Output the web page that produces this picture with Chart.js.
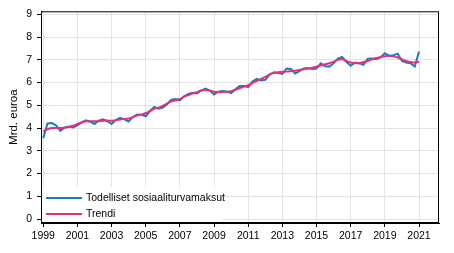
<!DOCTYPE html>
<html>
<head>
<meta charset="utf-8">
<script src="https://cdn.jsdelivr.net/npm/chart.js@4/dist/chart.umd.min.js"></script>
<style>
  body { margin: 0; background: #fff; }
  #wrap { position: relative; width: 454px; height: 253px; }
  #legend {
    position: absolute; left: 42px; top: 187px; width: 180px; height: 35px;
    background: #fff; font: 10.5px "Liberation Sans", Arial, sans-serif; color: #000;
  }
  .item { position: absolute; left: 4px; height: 12px; line-height: 12px; white-space: nowrap; }
  .item i { display: inline-block; width: 36px; height: 2px; vertical-align: middle; margin-right: 4px; }
</style>
</head>
<body>
<div id="wrap">
  <canvas id="chart" width="454" height="253"></canvas>
  <div id="legend"></div>
</div>
<script>
// ----- data (quarterly, 1999Q1 .. 2021Q1) -----
const startYear = 1999;
const seriesNames = ["Todelliset sosiaaliturvamaksut", "Trendi"];
const actual = [
  3.55, 4.20, 4.22, 4.12,
  3.88, 4.02, 4.07, 4.03,
  4.12, 4.25, 4.34, 4.28,
  4.18, 4.33, 4.39, 4.30,
  4.18, 4.35, 4.45, 4.38,
  4.29, 4.48, 4.60, 4.58,
  4.52, 4.75, 4.93, 4.85,
  4.90, 5.05, 5.25, 5.28,
  5.22, 5.40, 5.50, 5.55,
  5.52, 5.65, 5.73, 5.65,
  5.48, 5.60, 5.63, 5.60,
  5.54, 5.70, 5.85, 5.85,
  5.80, 6.05, 6.16, 6.09,
  6.12, 6.35, 6.45, 6.42,
  6.38, 6.62, 6.60, 6.40,
  6.50, 6.62, 6.64, 6.60,
  6.62, 6.84, 6.72, 6.70,
  6.85, 7.05, 7.12, 6.90,
  6.74, 6.88, 6.85, 6.78,
  7.05, 7.06, 7.03, 7.10,
  7.29, 7.17, 7.20, 7.27,
  6.95, 6.88, 6.85, 6.70,
  7.36
];
const trend = [
  3.85, 3.95, 4.00, 4.00,
  4.00, 4.02, 4.05, 4.10,
  4.18, 4.25, 4.30, 4.30,
  4.30, 4.30, 4.32, 4.33,
  4.32, 4.35, 4.38, 4.40,
  4.42, 4.48, 4.55, 4.60,
  4.65, 4.75, 4.85, 4.90,
  4.98, 5.08, 5.18, 5.22,
  5.28, 5.38, 5.45, 5.52,
  5.58, 5.65, 5.67, 5.65,
  5.60, 5.58, 5.58, 5.60,
  5.62, 5.68, 5.75, 5.82,
  5.88, 5.98, 6.08, 6.15,
  6.25, 6.35, 6.42, 6.45,
  6.47, 6.48, 6.50, 6.52,
  6.55, 6.58, 6.62, 6.65,
  6.70, 6.75, 6.80, 6.85,
  6.92, 7.00, 7.02, 6.95,
  6.88, 6.85, 6.85, 6.90,
  6.95, 7.02, 7.08, 7.12,
  7.15, 7.18, 7.15, 7.10,
  7.02, 6.95, 6.90, 6.88,
  6.92
];
const xTicks = [1999, 2001, 2003, 2005, 2007, 2009, 2011, 2013, 2015, 2017, 2019, 2021];
const yTicks = [0, 1, 2, 3, 4, 5, 6, 7, 8, 9];
const colors = ["#1a7dc0", "#e5307a"];

function toPoints(values) {
  return values.map((v, i) => ({ x: startYear + i / 4, y: v }));
}

// frame round the plot area
const framePlugin = {
  id: 'frame',
  afterDraw(chart) {
    const a = chart.chartArea, ctx = chart.ctx;
    ctx.save();
    ctx.strokeStyle = '#000';
    ctx.lineWidth = 1;
    ctx.strokeRect(a.left + 0.5, a.top + 0.5, a.right - a.left - 1, a.bottom - a.top - 1);
    ctx.restore();
  }
};

const font = { family: '"Liberation Sans", Arial, sans-serif', size: 10.5 };

new Chart(document.getElementById('chart').getContext('2d'), {
  type: 'line',
  data: {
    datasets: [
      { label: seriesNames[0], data: toPoints(actual), borderColor: colors[0], borderWidth: 2,
        pointRadius: 0, tension: 0, order: 1 },
      { label: seriesNames[1], data: toPoints(trend), borderColor: colors[1], borderWidth: 2,
        pointRadius: 0, tension: 0.4, order: 0 }
    ]
  },
  options: {
    responsive: false,
    animation: false,
    layout: { padding: { top: 8, right: 15, left: 0, bottom: 0 } },
    plugins: { legend: { display: false }, tooltip: { enabled: false } },
    scales: {
      x: {
        type: 'linear', min: 1998.87, max: 2022.17,
        afterBuildTicks: s => { s.ticks = xTicks.map(v => ({ value: v })); },
        afterFit: s => { s.height = 30; },
        grid: { color: '#e4e4e4', tickColor: '#000', tickLength: 4 },
        border: { color: '#000' },
        ticks: { color: '#000', font: font, padding: 3, maxRotation: 0, autoSkip: false,
                 callback: v => String(v) }
      },
      y: {
        min: -0.17, max: 9.13,
        afterBuildTicks: s => { s.ticks = yTicks.map(v => ({ value: v })); },
        afterFit: s => { s.width = 41; },
        grid: { color: '#e4e4e4', tickColor: '#000', tickLength: 4 },
        border: { color: '#000' },
        ticks: { color: '#000', font: font, padding: 5, callback: v => String(v) },
        title: { display: true, text: 'Mrd. euroa', color: '#000',
                 font: { family: font.family, size: 11.5 }, padding: { top: 7, bottom: 0 } }
      }
    }
  },
  plugins: [framePlugin]
});

// legend drawn as html on top of the plot
const legend = document.getElementById('legend');
seriesNames.forEach((name, i) => {
  const d = document.createElement('div');
  d.className = 'item';
  d.style.top = (4 + i * 16) + 'px';
  d.innerHTML = '<i style="background:' + colors[i] + '"></i>' + name;
  legend.appendChild(d);
});
</script>
</body>
</html>
